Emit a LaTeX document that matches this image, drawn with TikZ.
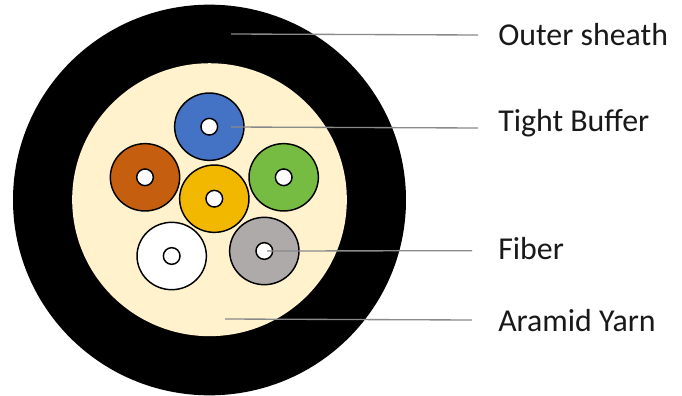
\documentclass[tikz,border=0pt]{standalone}
\usepackage{fontspec}
\setmainfont{Carlito}
\usetikzlibrary{shapes.geometric}
\definecolor{yarn}{HTML}{FFF2CC}
\definecolor{cblue}{HTML}{4472C4}
\definecolor{corange}{HTML}{C55F0F}
\definecolor{cgreen}{HTML}{76BC43}
\definecolor{cyellow}{HTML}{F2B800}
\definecolor{cgray}{HTML}{AEAAAA}
\definecolor{leader}{HTML}{8A8A8A}
\tikzset{
 disc/.style={ellipse,draw=black,line width=1.1pt,minimum width=52pt,minimum height=50.5pt,inner sep=0pt,outer sep=0pt},
 hole/.style={circle,draw=black,fill=white,line width=1.1pt,minimum size=12.5pt,inner sep=0pt,outer sep=0pt},
 lab/.style={anchor=base west,font=\fontsize{23.9}{28}\selectfont,inner sep=0pt,text=black!90},
 lead/.style={draw=leader,line width=1pt}
}
\begin{document}
\begin{tikzpicture}[x=0.75pt,y=-0.75pt]
\useasboundingbox (0,0) rectangle (682,396);
\fill[white] (0,0) rectangle (682,396);
\node[disc,minimum width=294.75pt,minimum height=293pt,fill=black,draw=none] (sheath) at (209.5,200) {};
\node[disc,minimum width=206pt,minimum height=204.7pt,fill=yarn,draw=none] (yarn) at (209.5,199.7) {};
\node[disc,fill=cblue] (blue) at (209.3,126.7) {};
\node[disc,fill=corange] (orange) at (145,177.3) {};
\node[disc,fill=cgreen] (green) at (283.7,177.3) {};
\node[disc,fill=cyellow] (yellow) at (214.3,198.7) {};
\node[disc,fill=white] (white) at (171.7,256) {};
\node[disc,fill=cgray] (gray) at (264.3,251) {};
\foreach \n in {blue,orange,green,yellow,white,gray}
  \node[hole] (\n c) at (\n) {};
\node[lab] (l1) at (498,45.7) {Outer sheath};
\node[lab] (l2) at (498,131) {Tight Buffer};
\node[lab] (l3) at (498,259) {Fiber};
\node[lab] (l4) at (498,331) {Aramid Yarn};
\coordinate (a1) at (231,34);
\coordinate (b1) at (478,35);
\coordinate (a2) at (231,127);
\coordinate (b2) at (478,128);
\coordinate (a3) at (267,251);
\coordinate (b3) at (472,250.7);
\coordinate (a4) at (225,319);
\coordinate (b4) at (472,320);
\draw[lead] (a1) -- (b1);
\draw[lead] (a2) -- (b2);
\draw[lead] (a3) -- (b3);
\draw[lead] (a4) -- (b4);
\end{tikzpicture}
\end{document}
